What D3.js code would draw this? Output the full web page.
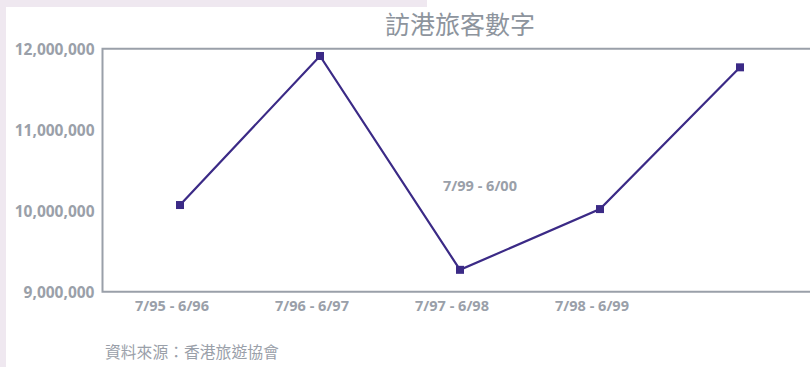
<!DOCTYPE html>
<html>
<head>
<meta charset="utf-8">
<script src="https://cdn.jsdelivr.net/npm/d3@7"></script>
<style>
  html, body { margin: 0; padding: 0; background: #fff; }
  svg { display: block; }
</style>
</head>
<body>
<div id="chart"></div>
<script>
// data
const periods = ["7/95 - 6/96", "7/96 - 6/97", "7/97 - 6/98", "7/98 - 6/99", "7/99 - 6/00"];
const visitors = [10070000, 11910000, 9270000, 10020000, 11770000];
const yTicks = [9000000, 10000000, 11000000, 12000000];
const title = "訪港旅客數字";
const source = "資料來源：香港旅遊協會";

const width = 810;
const height = 367;
const gray = "#9aa0a9";
const ink = "#3b2a86";

const svg = d3.select("#chart")
    .append("svg")
    .attr("width", width)
    .attr("height", height);

// lavender page edges
svg.append("rect").attr("x", 0).attr("y", 0).attr("width", 6).attr("height", height).attr("fill", "#efe8f0");
svg.append("rect").attr("x", 0).attr("y", 0).attr("width", 427).attr("height", 7).attr("fill", "#efe8f0");

const x = d3.scalePoint().domain(periods).range([180, 740]);
const y = d3.scaleLinear().domain([9000000, 12000000]).range([291.7, 48.7]);

// title
svg.append("text")
    .attr("x", 460)
    .attr("y", 34)
    .attr("text-anchor", "middle")
    .attr("fill", "#8d949d")
    .style("font-family", "'Noto Sans CJK TC', sans-serif")
    .style("font-size", "25px")
    .text(title);

// frame: left axis, top and bottom rules
const left = 102.5;
svg.append("path")
    .attr("d", `M${width},${y(12000000)}H${left}V${y(9000000)}H${width}`)
    .attr("fill", "none")
    .attr("stroke", gray)
    .attr("stroke-width", 2);

// y axis labels
const yAxis = svg.append("g")
    .attr("transform", `translate(${left},0)`)
    .call(d3.axisLeft(y).tickValues(yTicks).tickSize(0).tickPadding(8).tickFormat(d3.format(",")));
yAxis.select(".domain").remove();
yAxis.selectAll("text")
    .attr("dy", "0.4em")
    .attr("fill", gray)
    .style("font-family", "'Open Sans', sans-serif")
    .style("font-weight", "bold")
    .style("font-size", "15.5px");

// x labels (the last one sits inside the plot in the original)
svg.selectAll(".xlab")
    .data(periods)
    .enter().append("text")
    .attr("class", "xlab")
    .attr("x", (d, i) => i < 4 ? x(d) - 8 : (x(periods[2]) + x(periods[3])) / 2 - 50)
    .attr("y", (d, i) => i < 4 ? y(9000000) + 19 : y(10300000) + 5)
    .attr("text-anchor", "middle")
    .attr("fill", gray)
    .style("font-family", "'Open Sans', sans-serif")
    .style("font-weight", "bold")
    .style("font-size", "14.5px")
    .text(d => d);

// line
const line = d3.line()
    .x((d, i) => x(periods[i]))
    .y(d => y(d));

svg.append("path")
    .datum(visitors)
    .attr("d", line)
    .attr("fill", "none")
    .attr("stroke", ink)
    .attr("stroke-width", 2.2);

svg.selectAll(".pt")
    .data(visitors)
    .enter().append("rect")
    .attr("class", "pt")
    .attr("x", (d, i) => x(periods[i]) - 4)
    .attr("y", d => y(d) - 4)
    .attr("width", 8)
    .attr("height", 8)
    .attr("fill", ink);

// source note
svg.append("text")
    .attr("x", 105)
    .attr("y", 358)
    .attr("fill", gray)
    .style("font-family", "'Noto Sans CJK TC', sans-serif")
    .style("font-size", "15.8px")
    .text(source);
</script>
</body>
</html>
